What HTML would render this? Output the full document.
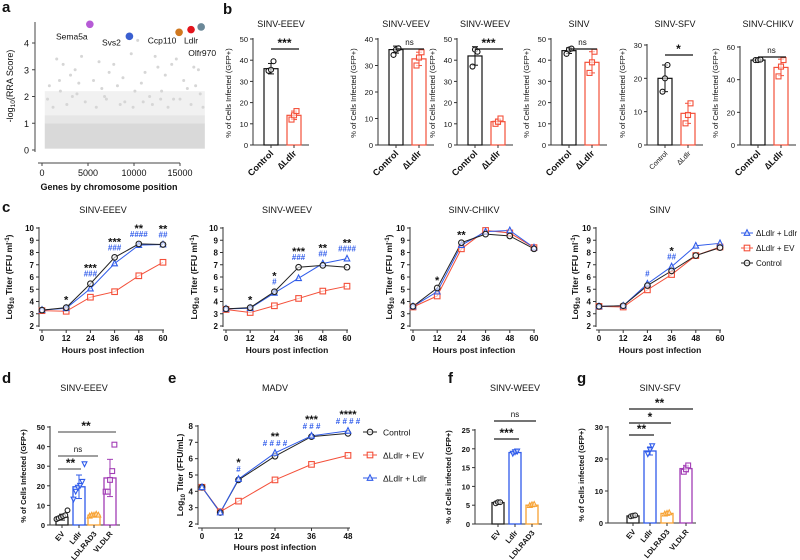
<!DOCTYPE html>
<html><head><meta charset="utf-8">
<style>
html,body{margin:0;padding:0;background:#fff;}
svg{display:block;font-family:"Liberation Sans",Arial,sans-serif;}
</style></head>
<body>
<svg id="fig" width="800" height="560" viewBox="0 0 800 560" xmlns="http://www.w3.org/2000/svg"></svg>
<script>
// ---------- Panel a data ----------
const aGenes = ["Sema5a","Svs2","Ccp110","Ldlr","Olfr970"];
const aPos = [5200,9500,14900,16200,17300];
const aScore = [4.7,4.25,4.4,4.5,4.6];
const aColors = ["#b65bd6","#3a5fd0","#d0781f","#e3141c","#6b8898"];
const aBgPos = [1600,2300,3100,3600,4300,5600,6200,7300,7800,8800,9700,10400,11200,12300,12600,13400,14100,14600,15400,16500,17000,800,2000,4000,6500,8200,10800,13000,15800,600,3300,9000,11700,14300,17200,1200,2700,4700,5900,7000,8500,9900,11000,12000,13700,15000,16200,17500,1900,3800,6800,10100,12900,16700];
const aBgScore = [3.4,3.2,2.8,3.0,3.5,2.6,3.3,2.9,3.2,2.7,3.6,4.1,2.9,3.5,3.1,2.8,3.2,3.4,2.6,3.1,3.0,2.4,2.2,2.5,2.3,2.4,2.5,2.2,2.3,1.9,2.0,1.8,2.0,1.9,2.1,1.6,1.7,1.8,1.6,1.9,1.7,1.6,1.8,1.7,1.6,1.9,1.7,1.6,2.6,2.1,2.0,2.2,1.9,2.4];
const aXTicks = [0,5000,10000,15000];
const aYTicks = [0,1,2,3,4];

// ---------- Panel b data ----------
const bTitles = ["SINV-EEEV","SINV-VEEV","SINV-WEEV","SINV","SINV-SFV","SINV-CHIKV"];
const bMax = [50,40,50,50,30,60];
const bStep = [10,10,10,10,10,20];
const bCtrlMean = [36,36,42,44.5,20,52];
const bLdlrMean = [14,32.5,11,39,9.5,47.5];
const bCtrlPts = [[35,35.5,39.5],[34,36,36.5],[37,45,44],[43,45,45.5],[16,20,24],[52,52,52.3]];
const bLdlrPts = [[12,14,16],[30,33,35],[10,11,12.5],[34,39,44],[6.5,9,12.5],[42,48,52]];
const bSig = ["***","ns","***","ns","*","ns"];

// ---------- Panel c data ----------
const cTitles = ["SINV-EEEV","SINV-WEEV","SINV-CHIKV","SINV"];
const cHours = [0,12,24,36,48,60];
const cCtrl = [[3.3,3.5,5.45,7.6,8.7,8.65],[3.4,3.5,4.8,6.8,6.95,6.8],[3.6,5.1,8.8,9.5,9.35,8.3],[3.6,3.65,5.3,6.5,7.75,8.4]];
const cEV = [[3.25,3.2,4.35,4.8,6.1,7.2],[3.35,3.1,3.65,4.25,4.85,5.25],[3.55,4.45,8.3,9.8,9.6,8.4],[3.6,3.55,4.95,6.2,7.75,8.45]];
const cLdlr = [[3.3,3.45,5.05,7.1,8.6,8.65],[3.4,3.45,4.7,5.9,7.1,7.5],[3.6,4.8,8.6,9.7,9.8,8.4],[3.6,3.65,5.45,6.85,8.55,8.75]];
const cStars = [["","*","***","***","**","**"],["","*","*","***","**","**"],["","*","**","","",""],["","","","*","",""]];
const cHash = [["","","###","###","####","##"],["","","#","###","##","####"],["","","","","",""],["","","#","##","",""]];
const cXTicks = [0,12,24,36,48,60];
const cYTicks = [2,3,4,5,6,7,8,9,10];

// ---------- Panel d data ----------
const dCats = ["EV","Ldlr","LDLRAD3","VLDLR"];
const dMeans = [4,19.5,5,24];
const dPts = [[3,3.5,4,4.5,5,7.5],[13,17,19,20,22,31],[4.5,5,5,5.5,5],[17,17,23,27.5,41]];
const dSd = [1.5,6,0.6,9.5];
const dYTicks = [0,10,20,30,40,50];

// ---------- Panel e data ----------
const eHours = [0,6,12,24,36,48];
const eCtrl = [4.25,2.7,4.7,6.15,7.35,7.55];
const eEV = [4.25,2.75,3.4,4.7,5.65,6.2];
const eLdlr = [4.25,2.7,4.75,6.35,7.4,7.7];
const eStars = ["","","*","**","***","****"];
const eHash = ["","","#","####","###","####"];
const eXTicks = [0,12,24,36,48];
const eYTicks = [2,3,4,5,6,7,8];

// ---------- Panel f data ----------
const fCats = ["EV","Ldlr","LDLRAD3"];
const fMeans = [5.7,19,5];
const fPts = [[5.5,5.8,5.8],[18.7,19.1,19.3],[4.9,5.1,5.2]];
const fYTicks = [0,5,10,15,20,25];

// ---------- Panel g data ----------
const gCats = ["EV","Ldlr","LDLRAD3","VLDLR"];
const gMeans = [2.2,22.5,3,17];
const gPts = [[2.1,2.3,2.4],[21.5,22.8,24],[2.8,3,3.2],[16,16.8,18]];
const gYTicks = [0,10,20,30];

// ============ helpers ============
const NS = "http://www.w3.org/2000/svg";
const svg = document.getElementById("fig");
const BLUE="#2f5bea", RED="#f4503a", ORANGE="#f7a233", PURPLE="#a23db5";
function mk(tag, attrs, name, parent){
  const el = document.createElementNS(NS, tag);
  for (const k in attrs) el.setAttribute(k, attrs[k]);
  
  
  (parent||svg).appendChild(el);
  return el;
}
function txt(x,y,s,name,opt){
  opt=opt||{};
  const t = mk("text",{x:x,y:y,"font-size":opt.size||9,"font-weight":opt.bold?"bold":"normal",fill:opt.fill||"#111","text-anchor":opt.anchor||"middle"},name);
  if(opt.rot!==undefined) t.setAttribute("transform","rotate("+opt.rot+" "+x+" "+y+")");
  t.textContent=s; return t;
}
function ln(x1,y1,x2,y2,name,c,w){return mk("line",{x1:x1,y1:y1,x2:x2,y2:y2,stroke:c||"#222","stroke-width":w||1},name);}
function scale(d0,d1,r0,r1){return v=>r0+(v-d0)*(r1-r0)/(d1-d0);}
function mean(a){return a.reduce((s,v)=>s+v,0)/a.length;}
function sd(a){const m=mean(a);return Math.sqrt(a.reduce((s,v)=>s+(v-m)*(v-m),0)/Math.max(1,a.length-1));}
function marker(type,x,y,c,name,r){
  r=r||3;
  if(type==="circle") return mk("circle",{cx:x,cy:y,r:r,fill:"#fff","fill-opacity":0.6,stroke:c,"stroke-width":1.1},name);
  if(type==="square") return mk("rect",{x:x-r,y:y-r,width:2*r,height:2*r,fill:"#fff","fill-opacity":0.6,stroke:c,"stroke-width":1.1},name);
  if(type==="tri") return mk("polygon",{points:(x)+","+(y-r-0.5)+" "+(x-r)+","+(y+r-0.5)+" "+(x+r)+","+(y+r-0.5),fill:"#fff","fill-opacity":0.6,stroke:c,"stroke-width":1.1},name);
  if(type==="tridown") return mk("polygon",{points:(x)+","+(y+r)+" "+(x-r)+","+(y-r)+" "+(x+r)+","+(y-r),fill:"#fff","fill-opacity":0.6,stroke:c,"stroke-width":1.1},name);
}
function letter(x,y,s){txt(x,y,s,"panel-label-"+s,{size:15,bold:true,anchor:"start"});}

// ============ Panel a ============
letter(2,12,"a");
(function(){
  const X=scale(0,15000,42,180), Y=scale(0,4,150,43);
  mk("rect",{x:X(300),y:Y(2.2),width:X(17700)-X(300),height:Y(1.3)-Y(2.2),fill:"#f1f1f1"},"gene-cloud-sparse");
  mk("rect",{x:X(300),y:Y(1.3),width:X(17700)-X(300),height:Y(1.0)-Y(1.3),fill:"#e6e6e6"},"gene-cloud-mid");
  mk("rect",{x:X(300),y:Y(1.0),width:X(17700)-X(300),height:Y(0.05)-Y(1.0),fill:"#d9d9d9"},"gene-cloud-dense");
  for(let i=0;i<aBgPos.length;i++){
    mk("circle",{cx:X(aBgPos[i]),cy:Y(aBgScore[i]),r:1.5,fill:"#d6d6d6"},"gene-point");
  }
  ln(35,22,35,152,"a-y-axis","#444");
  ln(38,163,180,163,"a-x-axis","#444");
  aYTicks.forEach(v=>{ln(32,Y(v),35,Y(v),"a-y-tick","#444");txt(29,Y(v)+3.5,String(v),"a-y-tick-label",{size:9,anchor:"end"});});
  aXTicks.forEach(v=>{ln(X(v),163,X(v),166,"a-x-tick","#444");txt(X(v),176,String(v),"a-x-tick-label",{size:9});});
  txt(109,190,"Genes by chromosome position","a-x-axis-title",{size:9,bold:true});
  const yl=txt(13,86,"","a-y-axis-title",{size:9,rot:-90});
  yl.innerHTML='-log<tspan font-size="6.5" dy="2">10</tspan><tspan dy="-2">(RRA Score)</tspan>';
  const lblDx=[-18,-18,-17,0,1], lblDy=[15,9,11,14,29];
  for(let i=0;i<aGenes.length;i++){
    mk("circle",{cx:X(aPos[i]),cy:Y(aScore[i]),r:3.8,fill:aColors[i]},"gene-highlight-"+aGenes[i].toLowerCase());
    txt(X(aPos[i])+lblDx[i],Y(aScore[i])+lblDy[i],aGenes[i],"gene-label-"+aGenes[i].toLowerCase(),{size:8.5});
  }
})();

// ============ Panel b ============
letter(223,14,"b");
const bAxisX=[253,378,457,551,647,740];
for(let i=0;i<6;i++){
  const ax=bAxisX[i], y0=145, yT=i===4?45:(i===5?47:39);
  const Y=scale(0,bMax[i],y0,yT);
  const cx=[ax+18,ax+41];
  txt(ax+28,27,bTitles[i],"b-title-"+i,{size:9});
  ln(ax,yT-1,ax,y0,"b-y-axis","#333");
  ln(ax,y0,ax+56,y0,"b-x-axis","#333");
  for(let v=0;v<=bMax[i];v+=bStep[i]){ln(ax-3,Y(v),ax,Y(v),"b-y-tick","#333");txt(ax-5,Y(v)+3,String(v),"b-y-tick-label",{size:7.5,anchor:"end"});}
  txt(ax-22,y0-52,"% of Cells Infected (GFP+)","b-y-axis-title",{size:7.5,rot:-90});
  const means=[bCtrlMean[i],bLdlrMean[i]], pts=[bCtrlPts[i],bLdlrPts[i]], cols=["#111",RED], mtype=["circle","square"];
  for(let j=0;j<2;j++){
    mk("rect",{x:cx[j]-7,y:Y(means[j]),width:14,height:y0-Y(means[j]),fill:"#fff",stroke:cols[j],"stroke-width":1.2},"b-bar-"+j);
    const s=sd(pts[j]);
    ln(cx[j],Y(means[j]-s),cx[j],Y(means[j]+s),"b-error-bar",cols[j]);
    ln(cx[j]-3,Y(means[j]+s),cx[j]+3,Y(means[j]+s),"b-error-cap",cols[j]);
    ln(cx[j]-3,Y(means[j]-s),cx[j]+3,Y(means[j]-s),"b-error-cap",cols[j]);
    pts[j].forEach((p,k)=>marker(mtype[j],cx[j]+(k-1)*2.5,Y(p),cols[j],"b-point",2.5));
    ln(cx[j],y0,cx[j],y0+3,"b-x-tick","#333");
  }
  const sy=yT+10;
  ln(cx[0],sy,cx[1]+5,sy,"b-sig-line","#111",1.2);
  txt((cx[0]+cx[1])/2+2,sy-(bSig[i]==="ns"?4:2),bSig[i],"b-sig-label",{size:bSig[i]==="ns"?8:12,bold:bSig[i]!=="ns"});
  txt(cx[0]+3,y0+9,"Control","b-x-label-control",{size:i===4?7:9,bold:i!==4,anchor:"end",rot:-45});
  txt(cx[1]+3,y0+9,"\u2206Ldlr","b-x-label-ldlr",{size:i===4?7:9,bold:i!==4,anchor:"end",rot:-45});
}

// ============ Panel c ============
letter(2,212,"c");
const cX0=[42,226,413,599], cYLab=[12,197,392,578];
function drawLines(X,Y,hours,series,cols,types,pref){
  series.forEach((s,si)=>{
    mk("polyline",{points:s.map((v,k)=>X(hours[k])+","+Y(v)).join(" "),fill:"none",stroke:cols[si],"stroke-width":1},pref+"-line-"+si);
  });
  series.forEach((s,si)=>{
    s.forEach((v,k)=>marker(types[si],X(hours[k]),Y(v),cols[si],pref+"-point",2.8));
  });
}
for(let i=0;i<4;i++){
  const X=scale(0,60,cX0[i],cX0[i]+121), Y=scale(2,10,326,228);
  const ax=cX0[i]-3;
  txt(cX0[i]+61,213,cTitles[i],"c-title-"+i,{size:9});
  ln(ax,227,ax,327,"c-y-axis","#333");
  ln(ax,330,cX0[i]+122,330,"c-x-axis","#333");
  cYTicks.forEach(v=>{ln(ax-3,Y(v),ax,Y(v),"c-y-tick","#333");txt(ax-5,Y(v)+3,String(v),"c-y-tick-label",{size:8,bold:true,anchor:"end"});});
  cXTicks.forEach(v=>{ln(X(v),330,X(v),333,"c-x-tick","#333");txt(X(v),341,String(v),"c-x-tick-label",{size:8,bold:true});});
  txt(cX0[i]+61,353,"Hours post infection","c-x-axis-title",{size:8.5,bold:true});
  const yl=txt(cYLab[i],277,"","c-y-axis-title",{size:8.5,bold:true,rot:-90});
  yl.innerHTML='Log<tspan font-size="6" dy="2">10</tspan><tspan dy="-2"> Titer (FFU ml</tspan><tspan font-size="6" dy="-3">-1</tspan><tspan dy="3">)</tspan>';
  drawLines(X,Y,cHours,[cEV[i],cLdlr[i],cCtrl[i]],[RED,BLUE,"#222"],["square","tri","circle"],"c-"+i);
  cHours.forEach((h,k)=>{
    const m=Math.max(cCtrl[i][k],cEV[i][k],cLdlr[i][k]);
    let yy=Y(m)-7;
    if(cHash[i][k]){txt(X(h),yy,cHash[i][k],"c-hash-label",{size:8,fill:BLUE,bold:true});yy-=8;}
    if(cStars[i][k]){txt(X(h),yy+3,cStars[i][k],"c-star-label",{size:11,bold:true});}
  });
}
// legend c
[["\u0394Ldlr + Ldlr",BLUE,"tri"],["\u0394Ldlr + EV",RED,"square"],["Control","#222","circle"]].forEach((e,k)=>{
  const y=233+k*15;
  ln(741,y,753,y,"c-legend-line",e[1]);
  marker(e[2],747,y,e[1],"c-legend-marker",2.8);
  txt(756,y+3,e[0],"c-legend-entry",{size:8,anchor:"start"});
});

// ============ Panel d / f / g (bar scatter) ============
function catBars(o){
  const Y=scale(0,o.max,o.y0,o.yT);
  txt(o.titleX,391,o.title,o.pref+"-title",{size:9});
  ln(o.ax,o.yT-1,o.ax,o.y0,o.pref+"-y-axis","#333");
  ln(o.ax,o.y0,o.cx[o.cx.length-1]+10,o.y0,o.pref+"-x-axis","#333");
  o.ticks.forEach(v=>{ln(o.ax-3,Y(v),o.ax,Y(v),o.pref+"-y-tick","#333");txt(o.ax-5,Y(v)+3,String(v),o.pref+"-y-tick-label",{size:7.5,bold:true,anchor:"end"});});
  txt(o.ax-24,(o.y0+o.yT)/2,o.ylab,o.pref+"-y-axis-title",{size:7.5,bold:true,rot:-90});
  o.cats.forEach((c,j)=>{
    const cx=o.cx[j], col=o.cols[j];
    mk("rect",{x:cx-6,y:Y(o.means[j]),width:12,height:o.y0-Y(o.means[j]),fill:"#fff",stroke:col,"stroke-width":1.3},o.pref+"-bar-"+c.toLowerCase());
    const s=o.sds?o.sds[j]:sd(o.pts[j]);
    ln(cx,Y(o.means[j]-s),cx,Y(o.means[j]+s),o.pref+"-error-bar",col);
    ln(cx-3,Y(o.means[j]+s),cx+3,Y(o.means[j]+s),o.pref+"-error-cap",col);
    ln(cx-3,Y(o.means[j]-s),cx+3,Y(o.means[j]-s),o.pref+"-error-cap",col);
    const n=o.pts[j].length;
    o.pts[j].forEach((p,k)=>marker(o.types[j],cx+(k-(n-1)/2)*2.2,Y(p),col,o.pref+"-point",2.4));
    ln(cx,o.y0,cx,o.y0+3,o.pref+"-x-tick","#333");
    txt(cx+3,o.y0+9,c,o.pref+"-x-label",{size:7.5,bold:true,anchor:"end",rot:-50});
  });
  o.sig.forEach(s=>{
    ln(o.cx[0]-4,s[0],o.cx[s[1]]+(s[3]||4),s[0],o.pref+"-sig-line",s[4]||"#222",1.2);
    txt((o.cx[0]+o.cx[s[1]])/2,s[0]-(s[2]==="ns"?4:2),s[2],o.pref+"-sig-label",{size:s[2]==="ns"?8:12,bold:s[2]!=="ns"});
  });
}
letter(2,383,"d");
catBars({pref:"d",title:"SINV-EEEV",titleX:84,ax:50,y0:525,yT:427,max:50,ticks:dYTicks,cats:dCats,means:dMeans,pts:dPts,sds:dSd,
  cx:[62,79,94,110],cols:["#222",BLUE,ORANGE,PURPLE],types:["circle","tridown","tri","square"],
  ylab:"% of Cells Infected (GFP+)",sig:[[432,3,"**",6,"#666"],[456,2,"ns",4,"#666"],[469,1,"**",2,"#666"]]});
letter(448,383,"f");
catBars({pref:"f",title:"SINV-WEEV",titleX:515,ax:475,y0:524,yT:430,max:25,ticks:fYTicks,cats:fCats,means:fMeans,pts:fPts,
  cx:[498,515,532],cols:["#222",BLUE,ORANGE],types:["circle","tridown","tri"],
  ylab:"% of Cells infected (GFP+)",sig:[[421,2,"ns",0],[439,1,"***",0]]});
letter(577,383,"g");
catBars({pref:"g",title:"SINV-SFV",titleX:660,ax:608,y0:523,yT:427,max:30,ticks:gYTicks,cats:gCats,means:gMeans,pts:gPts,
  cx:[633,650,667,686],cols:["#222",BLUE,ORANGE,PURPLE],types:["circle","tridown","tri","square"],
  ylab:"% of Cells infected (GFP+)",sig:[[409,3,"**",7],[423,2,"*",0],[435,1,"**",0]]});

// ============ Panel e ============
letter(168,383,"e");
(function(){
  const X=scale(0,48,202,348), Y=scale(2,8,524,426);
  const ax=198;
  txt(275,391,"MADV","e-title",{size:9});
  ln(ax,425,ax,525,"e-y-axis","#333");
  ln(ax,528,350,528,"e-x-axis","#333");
  eYTicks.forEach(v=>{ln(ax-3,Y(v),ax,Y(v),"e-y-tick","#333");txt(ax-5,Y(v)+3,String(v),"e-y-tick-label",{size:8,bold:true,anchor:"end"});});
  eXTicks.forEach(v=>{ln(X(v),528,X(v),531,"e-x-tick","#333");txt(X(v),539,String(v),"e-x-tick-label",{size:8,bold:true});});
  txt(275,550,"Hours post infection","e-x-axis-title",{size:8.5,bold:true});
  const yl=txt(183,475,"","e-y-axis-title",{size:8.5,bold:true,rot:-90});
  yl.innerHTML='Log<tspan font-size="6" dy="2">10</tspan><tspan dy="-2"> Titer (FFU/mL)</tspan>';
  drawLines(X,Y,eHours,[eEV,eCtrl,eLdlr],[RED,"#222",BLUE],["square","circle","tri"],"e");
  eHours.forEach((h,k)=>{
    const m=Math.max(eCtrl[k],eEV[k],eLdlr[k]);
    let yy=Y(m)-7;
    if(eHash[k]){txt(X(h),yy,eHash[k].split("").join(" "),"e-hash-label",{size:8,fill:BLUE,bold:true});yy-=9;}
    if(eStars[k]){txt(X(h),yy+3,eStars[k],"e-star-label",{size:11,bold:true});}
  });
  [["Control","#222","circle"],["\u0394Ldlr + EV",RED,"square"],["\u0394Ldlr + Ldlr",BLUE,"tri"]].forEach((e,k)=>{
    const y=432+k*23;
    ln(363,y,377,y,"e-legend-line",e[1]);
    marker(e[2],370,y,e[1],"e-legend-marker",2.8);
    txt(383,y+3.5,e[0],"e-legend-entry",{size:8.5,anchor:"start"});
  });
})();
</script>
</body></html>
